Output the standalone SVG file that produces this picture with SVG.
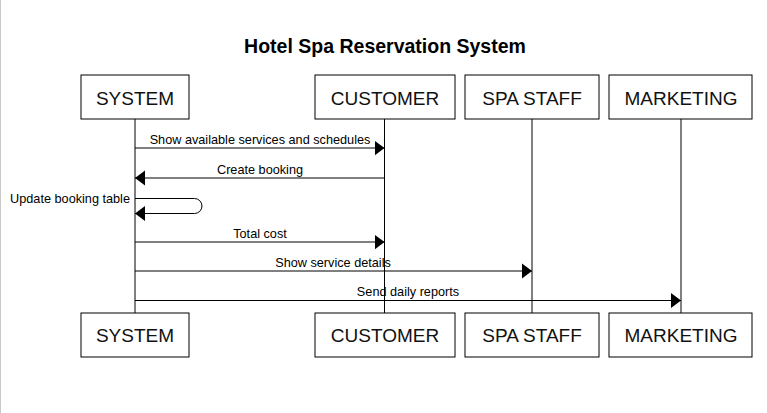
<svg xmlns="http://www.w3.org/2000/svg" width="767" height="413" viewBox="0 0 767 413">
<style>
.box{fill:#fff;stroke:#000;stroke-width:1}
.actor{font-family:"Liberation Sans",Arial,sans-serif;font-size:19px;fill:#111;text-anchor:middle}
.title{font-family:"Liberation Sans",Arial,sans-serif;font-size:19.5px;font-weight:bold;fill:#000;text-anchor:middle}
.life{stroke:#000;stroke-width:1;fill:none}
.msg{stroke:#000;stroke-width:1;fill:none;marker-end:url(#arrow)}
.lbl{font-family:"Liberation Sans",Arial,sans-serif;font-size:12.7px;fill:#000;text-anchor:middle}
</style>
<defs>
<marker id="arrow" markerUnits="userSpaceOnUse" markerWidth="10" markerHeight="16" refX="10" refY="8" orient="auto">
<path d="M0,0.5 L10,8 L0,15.5 Z" fill="#000"/>
</marker>
</defs>
<rect x="0" y="0" width="767" height="413" fill="#fff"/>
<line x1="0.5" y1="0" x2="0.5" y2="413" stroke="#c8c8c8" stroke-width="1"/>
<text class="title" x="385" y="52.5">Hotel Spa Reservation System</text>
<g id="lifelines">
<line class="life" x1="135" y1="119" x2="135" y2="313"/>
<line class="life" x1="384.5" y1="119" x2="384.5" y2="313"/>
<line class="life" x1="532" y1="119" x2="532" y2="313"/>
<line class="life" x1="681" y1="119" x2="681" y2="313"/>
</g>
<g id="system">
<rect class="box" x="81" y="75" width="108" height="44"/>
<text class="actor" x="135" y="104.5">SYSTEM</text>
<rect class="box" x="81" y="313" width="108" height="44"/>
<text class="actor" x="135" y="341.5">SYSTEM</text>
</g>
<g id="customer">
<rect class="box" x="315" y="75" width="140" height="44"/>
<text class="actor" x="385" y="104.5">CUSTOMER</text>
<rect class="box" x="315" y="313" width="140" height="44"/>
<text class="actor" x="385" y="341.5">CUSTOMER</text>
</g>
<g id="spastaff">
<rect class="box" x="465" y="75" width="134" height="44"/>
<text class="actor" x="532" y="104.5">SPA STAFF</text>
<rect class="box" x="465" y="313" width="134" height="44"/>
<text class="actor" x="532" y="341.5">SPA STAFF</text>
</g>
<g id="marketing">
<rect class="box" x="609" y="75" width="143" height="44"/>
<text class="actor" x="681" y="104.5">MARKETING</text>
<rect class="box" x="609" y="313" width="143" height="44"/>
<text class="actor" x="681" y="341.5">MARKETING</text>
</g>
<g id="connectors">
<path class="msg" d="M135,148 H384.5"/>
<text class="lbl" x="260" y="144">Show available services and schedules</text>
<path class="msg" d="M384.5,178 H135"/>
<text class="lbl" x="260" y="173.5">Create booking</text>
<path class="msg" d="M135,198.5 H194.5 A7.5,7.5 0 0 1 194.5,213.5 H135"/>
<text class="lbl" x="130" y="202.5" style="text-anchor:end">Update booking table</text>
<path class="msg" d="M135,242 H384.5"/>
<text class="lbl" x="260" y="237.5">Total cost</text>
<path class="msg" d="M135,271 H532"/>
<text class="lbl" x="333" y="267">Show service details</text>
<path class="msg" d="M135,300.5 H681"/>
<text class="lbl" x="408" y="296">Send daily reports</text>
</g>
</svg>
